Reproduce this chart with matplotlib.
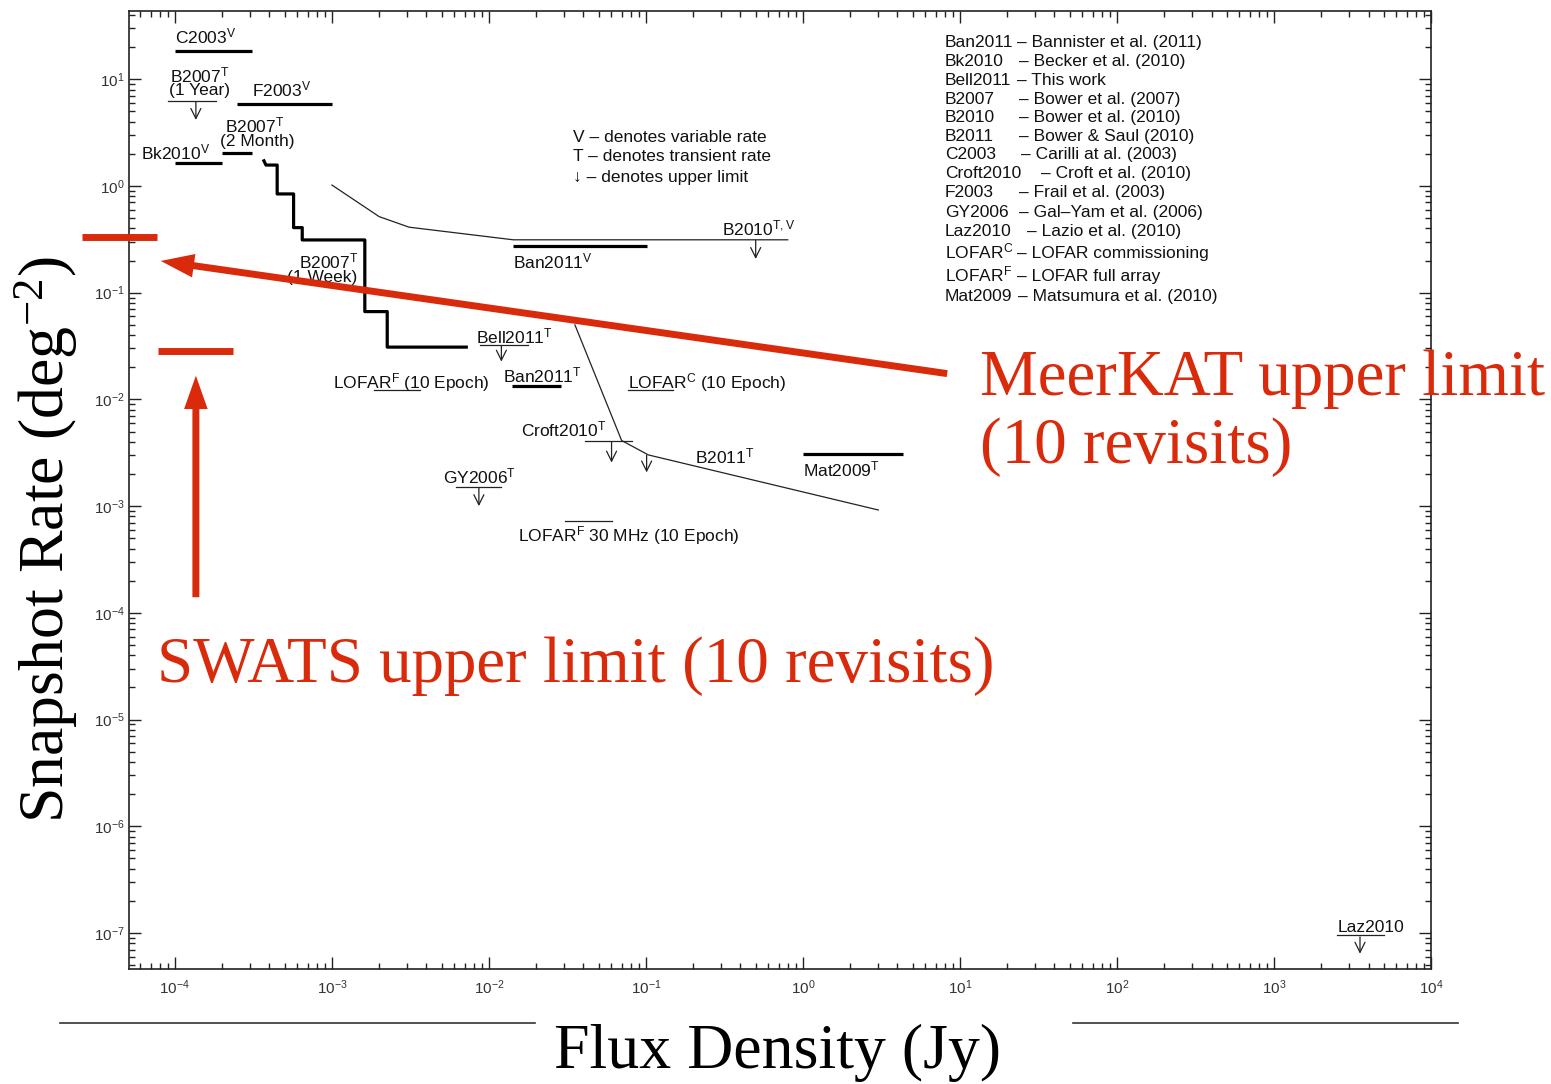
import numpy as np
import matplotlib
matplotlib.use("Agg")
import matplotlib.pyplot as plt
from matplotlib.patches import FancyArrowPatch, ArrowStyle
from matplotlib.lines import Line2D
from matplotlib.ticker import LogLocator, NullFormatter
from matplotlib.transforms import offset_copy

plt.rcParams['font.family'] = ['Liberation Sans', 'DejaVu Sans']
plt.rcParams['mathtext.default'] = 'regular'

RED = '#d92a0b'
SERIF = 'Liberation Serif'

# ---- data (flux in Jy, rate in deg^-2) ----
# thick bars = measured rates
bar_lo = [1.0e-4, 2.5e-4, 2.0e-4, 1.0e-4, 0.0143, 0.014, 1.0]
bar_hi = [3.1e-4, 1.0e-3, 3.1e-4, 2.0e-4, 0.101, 0.0288, 4.36]
bar_rate = [18.4, 5.9, 2.05, 1.63, 0.276, 0.0134, 3.09e-3]

# thin bars = upper limits
lim_lo = [9.1e-5, 8.8e-3, 1.85e-3, 0.077, 0.0408, 6.2e-3, 0.0305, 2530]
lim_hi = [1.82e-4, 0.0178, 3.63e-3, 0.149, 0.081, 0.012, 0.0604, 5010]
lim_rate = [6.3, 0.0325, 0.0123, 0.0123, 4.12e-3, 1.51e-3, 7.3e-4, 9.5e-8]

# upper limit arrows
arrow_flux = [1.36e-4, 0.5, 0.012, 0.0604, 0.101, 8.63e-3, 3530]
arrow_top = [6.1, 0.31, 0.0320, 4.0e-3, 3.0e-3, 1.48e-3, 9.2e-8]
arrow_bot = [4.16, 0.207, 0.0226, 2.56e-3, 2.07e-3, 1.0e-3, 6.4e-8]

# B2007 (1 week) step curve
b2007w_flux = [3.69e-4, 3.8e-4, 4.48e-4, 4.48e-4, 5.7e-4, 5.7e-4, 6.47e-4,
               6.47e-4, 1.62e-3, 1.62e-3, 2.25e-3, 2.25e-3, 7.17e-3]
b2007w_rate = [1.72, 1.57, 1.57, 0.842, 0.842, 0.407, 0.407,
               0.312, 0.312, 0.0665, 0.0665, 0.0309, 0.0309]

# B2010 curve
b2010_flux = [1.0e-3, 2.0e-3, 3.1e-3, 0.0143, 0.80]
b2010_rate = [1.02, 0.516, 0.411, 0.313, 0.313]

# Croft2010 / B2011 curve
b2011_flux = [0.0353, 0.070, 0.1035, 3.02]
b2011_rate = [0.0499, 4.12e-3, 3.02e-3, 9.2e-4]

# red overlays
meerkat_flux = [2.56e-5, 7.7e-5]
meerkat_rate = 0.331
swats_flux = [7.76e-5, 2.35e-4]
swats_rate = 0.0287

# labels next to the marks: text, left x, centre y
labels = [
    ('C2003$^{V}$', 1.0e-4, 24.9),
    ('B2007$^{T}$', 9.3e-5, 10.7),
    ('(1 Year)', 9.2e-5, 8.1),
    ('F2003$^{V}$', 3.09e-4, 7.94),
    ('B2007$^{T}$', 2.07e-4, 3.6),
    ('(2 Month)', 1.93e-4, 2.7),
    ('Bk2010$^{V}$', 6.1e-5, 2.05),
    ('B2007$^{T}$', 6.17e-4, 0.195),
    ('(1 Week)', 5.19e-4, 0.1435),
    ('Ban2011$^{V}$', 0.0143, 0.195),
    ('B2010$^{T,V}$', 0.303, 0.393),
    ('Bell2011$^{T}$', 8.26e-3, 0.0383),
    ('LOFAR$^{F}$ (10 Epoch)', 1.02e-3, 0.0144),
    ('Ban2011$^{T}$', 0.0123, 0.0166),
    ('LOFAR$^{C}$ (10 Epoch)', 0.077, 0.0144),
    ('Croft2010$^{T}$', 0.0161, 5.19e-3),
    ('B2011$^{T}$', 0.205, 2.88e-3),
    ('Mat2009$^{T}$', 1.0, 2.15e-3),
    ('GY2006$^{T}$', 5.07e-3, 1.87e-3),
    ('LOFAR$^{F}$ 30 MHz (10 Epoch)', 0.0154, 5.38e-4),
    ('Laz2010', 2529, 1.18e-7),
]

ref_abbr = ['Ban2011', 'Bk2010', 'Bell2011', 'B2007', 'B2010', 'B2011', 'C2003',
            'Croft2010', 'F2003', 'GY2006', 'Laz2010', 'LOFAR$^{C}$', 'LOFAR$^{F}$',
            'Mat2009']
ref_desc = ['– Bannister et al. (2011)', '– Becker et al. (2010)', '– This work',
            '– Bower et al. (2007)', '– Bower et al. (2010)', '– Bower & Saul (2010)',
            '– Carilli at al. (2003)', '– Croft et al. (2010)', '– Frail et al. (2003)',
            '– Gal–Yam et al. (2006)', '– Lazio et al. (2010)', '– LOFAR commissioning',
            '– LOFAR full array', '– Matsumura et al. (2010)']
ref_dash_x = [0.682, 0.6836, 0.682, 0.6836, 0.6836, 0.6836, 0.6851,
              0.7005, 0.6836, 0.6836, 0.6897, 0.682, 0.682, 0.6828]
ref_y = [0.9624, 0.9426, 0.9228, 0.9029, 0.8841, 0.8643, 0.8455,
         0.8257, 0.8058, 0.7850, 0.7651, 0.7422, 0.7182, 0.6973]

notes = ['V – denotes variable rate', 'T – denotes transient rate', '↓ – denotes upper limit']
notes_y = [0.8633, 0.8434, 0.8215]

# ---- figure ----
fig = plt.figure(figsize=(15.51, 10.84), dpi=100)
ax = fig.add_axes([129 / 1551, 1 - 969 / 1084, 1302 / 1551, 958 / 1084])
ax.set_xscale('log')
ax.set_yscale('log')
ax.set_xlim(5.1e-5, 1e4)
ax.set_ylim(4.6e-8, 43.6)

for lo, hi, r in zip(bar_lo, bar_hi, bar_rate):
    ax.plot([lo, hi], [r, r], color='k', lw=2.3, solid_capstyle='butt')
for lo, hi, r in zip(lim_lo, lim_hi, lim_rate):
    ax.plot([lo, hi], [r, r], color='#222222', lw=0.9)
for x, t, b in zip(arrow_flux, arrow_top, arrow_bot):
    ax.add_patch(FancyArrowPatch((x, t), (x, b), arrowstyle='->', lw=0.9,
                                 color='#222222', shrinkA=0, shrinkB=0,
                                 mutation_scale=18))

ax.plot(b2007w_flux, b2007w_rate, color='k', lw=2.3)
ax.plot(b2010_flux, b2010_rate, color='#222222', lw=0.9)
ax.plot(b2011_flux, b2011_rate, color='#222222', lw=0.9)

tr = offset_copy(ax.transData, fig=fig, x=0, y=-4.5, units='points')
for s, x, y in labels:
    ax.text(x, y, s, transform=tr, fontsize=12.5, ha='left', va='baseline', color='#111111')

for abbr, desc, dx, y in zip(ref_abbr, ref_desc, ref_dash_x, ref_y):
    ax.text(0.6267, y, abbr, transform=ax.transAxes, fontsize=12.5, va='baseline', color='#111111')
    ax.text(dx, y, desc, transform=ax.transAxes, fontsize=12.5, va='baseline', color='#111111')
for s, y in zip(notes, notes_y):
    ax.text(0.341, y, s, transform=ax.transAxes, fontsize=12.5, va='baseline', color='#111111')

# axes styling
ax.xaxis.set_major_locator(LogLocator(base=10, numticks=30))
ax.yaxis.set_major_locator(LogLocator(base=10, numticks=30))
ax.xaxis.set_minor_locator(LogLocator(base=10, subs=np.arange(2, 10), numticks=100))
ax.yaxis.set_minor_locator(LogLocator(base=10, subs=np.arange(2, 10), numticks=100))
ax.xaxis.set_minor_formatter(NullFormatter())
ax.yaxis.set_minor_formatter(NullFormatter())
ax.tick_params(which='both', direction='in', top=True, right=True, width=1.0, colors='#222222')
ax.tick_params(which='major', length=8.6, labelsize=11, labelcolor='#333333')
ax.tick_params(which='minor', length=4.3)
ax.tick_params(axis='x', which='major', pad=7)
ax.tick_params(axis='y', which='major', pad=3)
for sp in ax.spines.values():
    sp.set_linewidth(1.2)
    sp.set_color('#222222')

# red overlays
ax.plot(meerkat_flux, [meerkat_rate] * 2, color=RED, lw=5, solid_capstyle='butt',
        clip_on=False, zorder=6)
ax.plot(swats_flux, [swats_rate] * 2, color=RED, lw=5, solid_capstyle='butt',
        clip_on=False, zorder=6)
red_head = ArrowStyle.Simple(head_length=24, head_width=17, tail_width=5)
ax.add_patch(FancyArrowPatch((8.63, 0.0173), (7.8e-5, 0.2), arrowstyle=red_head,
                             mutation_scale=1, color=RED, lw=0, clip_on=False, zorder=6))
ax.add_patch(FancyArrowPatch((1.36e-4, 1.32e-4), (1.36e-4, 0.0177), arrowstyle=red_head,
                             mutation_scale=1, color=RED, lw=0, clip_on=False, zorder=6))

fig.text(980 / 1551, 1 - 395 / 1084, 'MeerKAT upper limit', color=RED, fontsize=46.8,
         family=SERIF, va='baseline')
fig.text(980 / 1551, 1 - 463 / 1084, '(10 revisits)', color=RED, fontsize=46.8,
         family=SERIF, va='baseline')
fig.text(157 / 1551, 1 - 682 / 1084, 'SWATS upper limit (10 revisits)', color=RED,
         fontsize=46.8, family=SERIF, va='baseline')

# axis titles
fig.text(46 / 1551, 1 - 540 / 1084, 'Snapshot Rate (deg$^{-2}$)', rotation=90,
         fontsize=46, family=SERIF, ha='center', va='center')
fig.text(778 / 1551, 1 - 1068 / 1084, 'Flux Density (Jy)', fontsize=46, family=SERIF,
         ha='center', va='baseline')
fig.add_artist(Line2D([60 / 1551, 535 / 1551], [1 - 1023 / 1084] * 2,
                      transform=fig.transFigure, color='#333333', lw=1.2))
fig.add_artist(Line2D([1073 / 1551, 1458 / 1551], [1 - 1023 / 1084] * 2,
                      transform=fig.transFigure, color='#333333', lw=1.2))

fig.savefig('out.png', dpi=100)
